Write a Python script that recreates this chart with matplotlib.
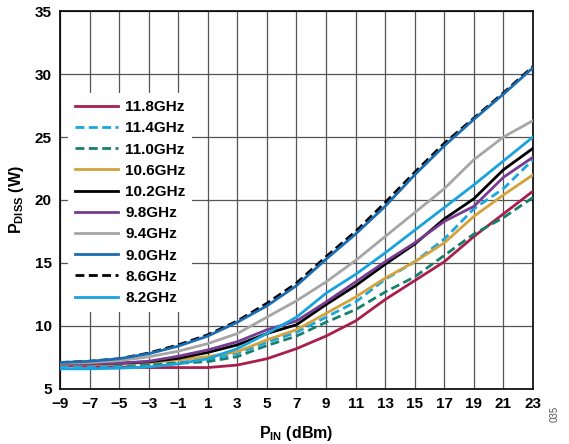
import matplotlib
matplotlib.use("Agg")
import matplotlib.pyplot as plt

plt.rcParams['font.family'] = ['Liberation Sans', 'DejaVu Sans']
plt.rcParams['font.weight'] = 'bold'
plt.rcParams['mathtext.fontset'] = 'custom'
plt.rcParams['mathtext.rm'] = 'Liberation Sans:bold'
plt.rcParams['mathtext.it'] = 'Liberation Sans:bold'
plt.rcParams['mathtext.bf'] = 'Liberation Sans:bold'

# input power (dBm)
p_in = [-9, -7, -5, -3, -1, 1, 3, 5, 7, 9, 11, 13, 15, 17, 19, 21, 23]

# dissipated power (W)
p_118 = [6.85, 6.8, 6.75, 6.7, 6.7, 6.7, 6.9, 7.4, 8.2, 9.2, 10.4, 12.1, 13.6, 15.1, 17.1, 18.9, 20.7]
p_114 = [6.8, 6.8, 6.85, 6.95, 7.1, 7.35, 7.83, 8.7, 9.5, 10.7, 11.9, 13.7, 15.1, 16.9, 19.3, 20.9, 23.2]
p_110 = [6.95, 6.95, 6.95, 7.0, 7.04, 7.17, 7.57, 8.45, 9.2, 10.3, 11.3, 12.7, 13.9, 15.6, 17.3, 18.6, 20.2]
p_106 = [6.95, 6.95, 7.0, 7.1, 7.3, 7.57, 7.96, 8.9, 9.7, 11.0, 12.3, 13.8, 15.1, 16.6, 18.7, 20.4, 22.0]
p_102 = [7.0, 7.0, 7.05, 7.15, 7.43, 7.9, 8.5, 9.4, 10.1, 11.7, 13.2, 14.9, 16.5, 18.5, 20.1, 22.4, 24.1]
p_98 = [7.0, 7.0, 7.05, 7.2, 7.6, 8.1, 8.75, 9.7, 10.4, 11.9, 13.5, 15.1, 16.6, 18.3, 19.5, 21.8, 23.4]
p_94 = [7.05, 7.1, 7.25, 7.55, 8.0, 8.6, 9.4, 10.7, 12.0, 13.5, 15.2, 17.1, 19.0, 20.9, 23.2, 25.0, 26.3]
p_90 = [7.1, 7.2, 7.4, 7.8, 8.4, 9.2, 10.3, 11.6, 13.2, 15.3, 17.3, 19.5, 22.0, 24.3, 26.4, 28.4, 30.5]
p_86 = [7.1, 7.2, 7.4, 7.85, 8.5, 9.3, 10.4, 11.8, 13.4, 15.5, 17.5, 19.8, 22.2, 24.5, 26.5, 28.5, 30.6]
p_82 = [6.6, 6.6, 6.65, 6.75, 7.0, 7.4, 8.2, 9.4, 10.7, 12.6, 14.1, 15.8, 17.6, 19.4, 21.2, 23.1, 25.0]

labels = ['11.8GHz', '11.4GHz', '11.0GHz', '10.6GHz', '10.2GHz',
          '9.8GHz', '9.4GHz', '9.0GHz', '8.6GHz', '8.2GHz']
series = [p_118, p_114, p_110, p_106, p_102, p_98, p_94, p_90, p_86, p_82]
colors = ['#a81f4c', '#1aa7e1', '#17806f', '#d3a23a', '#000000',
          '#773c92', '#a6a6a6', '#1b6db2', '#000000', '#19a3dc']
dashed = (0, (3.2, 1.6))
styles = ['-', dashed, dashed, '-', '-', '-', '-', '-', dashed, '-']

fig = plt.figure(figsize=(5.69, 4.44), dpi=100)
ax = fig.add_axes([0.1054, 0.1239, 0.8313, 0.8513])

for i, (lab, vals) in enumerate(zip(labels, series)):
    z = 3 + i
    if lab == '8.6GHz':
        z = 2  # 9.0GHz sits on top of it
    ax.plot(p_in, vals, color=colors[i], linestyle=styles[i], linewidth=2.0,
            label=lab, zorder=z)

ax.set_xlim(-9, 23)
ax.set_ylim(5, 35)
ax.set_xticks(range(-9, 24, 2))
ax.set_yticks(range(5, 36, 5))
ax.grid(True, color='#555555', linewidth=0.9)
ax.set_axisbelow(True)
ax.tick_params(length=0, labelsize=11, pad=6)
for s in ax.spines.values():
    s.set_color('black')
    s.set_linewidth(1.2)

ax.set_xlabel(r'$\mathrm{P_{IN}}$ (dBm)', fontsize=11.5, fontweight='bold', labelpad=9)
ax.set_ylabel(r'$\mathrm{P_{DISS}}$ (W)', fontsize=11.5, fontweight='bold', labelpad=6)

leg = ax.legend(loc='upper left', bbox_to_anchor=(0.017, 0.782), borderaxespad=0,
                frameon=True, fancybox=False, framealpha=1.0, edgecolor='none',
                fontsize=11, handlelength=2.8, handletextpad=0.5,
                labelspacing=0.47, borderpad=0.45)
leg.set_zorder(20)

fig.text(0.975, 0.05, '035', rotation=90, fontsize=7, color='#555555',
         fontweight='normal', ha='center', va='bottom')

fig.savefig('out.png', dpi=100)
